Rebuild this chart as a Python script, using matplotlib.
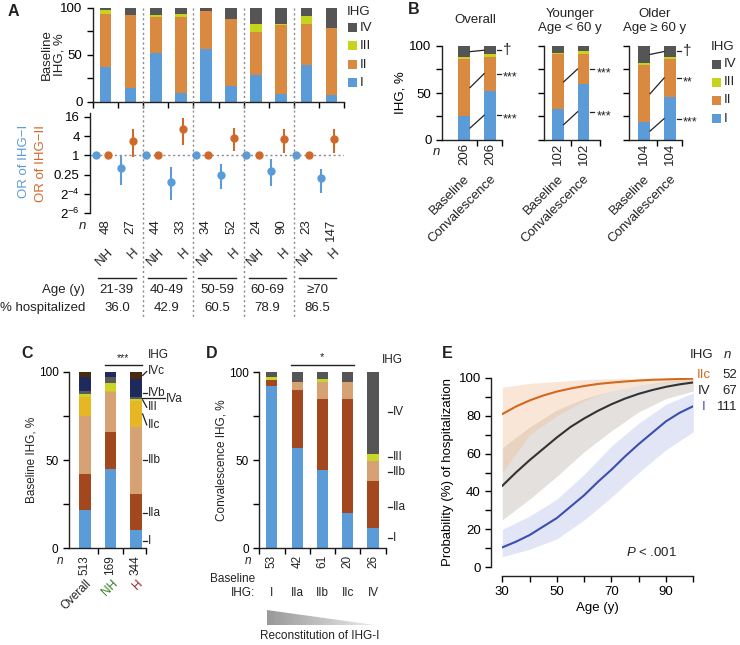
import numpy as np
import matplotlib.pyplot as plt
from matplotlib import transforms
from matplotlib.lines import Line2D
from matplotlib.patches import Rectangle, Polygon

plt.rcParams['font.family'] = ['Liberation Sans', 'DejaVu Sans']
plt.rcParams['font.size'] = 9.5
plt.rcParams['mathtext.fontset'] = 'custom'
plt.rcParams['mathtext.rm'] = 'Liberation Sans'
plt.rcParams['mathtext.it'] = 'Liberation Sans:italic'
plt.rcParams['axes.linewidth'] = 1.0
plt.rcParams['axes.edgecolor'] = '#222222'
plt.rcParams['text.color'] = '#222222'
for k in ['xtick.major.size', 'ytick.major.size', 'xtick.minor.size', 'ytick.minor.size']:
    plt.rcParams[k] = 4
for k in ['xtick.major.width', 'ytick.major.width', 'xtick.minor.width', 'ytick.minor.width']:
    plt.rcParams[k] = 1.0

# ---------------- data ----------------
ihg4 = ['IV', 'III', 'II', 'I']
col4 = {'I': '#5b9bd8', 'II': '#d98a40', 'III': '#c6d41e', 'IV': '#555555'}

# panel A
age_groups = ['21-39', '40-49', '50-59', '60-69', '≥70']
pct_hosp = ['36.0', '42.9', '60.5', '78.9', '86.5']
a_status = ['NH', 'H'] * 5
a_n = [48, 27, 44, 33, 34, 52, 24, 90, 23, 147]
a_I = [36.5, 14.8, 52.0, 9.0, 55.5, 17.0, 28.6, 8.5, 39.0, 6.8]
a_II = [56.5, 77.2, 38.0, 81.0, 40.5, 70.7, 45.6, 72.8, 43.0, 71.7]
a_III = [4.2, 0.4, 2.2, 3.3, 0.3, 0.3, 8.5, 1.1, 8.9, 0.0]
a_IV = [2.8, 7.6, 7.8, 6.7, 3.7, 12.0, 17.3, 17.6, 9.1, 21.5]
# odds ratios (H vs NH) per age group
or_I = [0.39, 0.145, 0.24, 0.33, 0.20]
or_I_lo = [0.12, 0.04, 0.088, 0.107, 0.067]
or_I_hi = [1.05, 0.44, 0.53, 0.79, 0.38]
or_II = [2.77, 6.6, 3.5, 3.25, 3.25]
or_II_lo = [0.9, 2.17, 1.37, 1.21, 1.21]
or_II_hi = [6.6, 15.1, 7.1, 6.6, 6.6]

# panel B
b_titles = ['Overall', 'Younger\nAge < 60 y', 'Older\nAge ≥ 60 y']
b_n = [206, 102, 104]
b_base = [[25.5, 60.5, 2.0, 12.0], [32.6, 58.4, 2.0, 7.0], [19.0, 60.4, 2.6, 18.0]]
b_conv = [[52.5, 36.1, 2.4, 9.0], [60.0, 31.0, 3.7, 5.3], [45.4, 41.1, 1.8, 11.7]]
b_sig = [['***', '***', None, '†'], ['***', '***', None, None], ['***', '**', None, '†']]

# panels C and D
c_cats = ['I', 'IIa', 'IIb', 'IIc', 'III', 'IVa', 'IVb', 'IVc']
c_cols = ['#5b9bd8', '#a3481e', '#d6a273', '#e6b624', '#c8d62a', '#5a5a5a', '#1f2a5c', '#4a2b0e']
c_groups = ['Overall', 'NH', 'H']
c_group_cols = ['#222222', '#2e7d1f', '#8b1a1a']
c_n = [513, 169, 344]
c_vals = [[21.8, 20.4, 33.0, 10.9, 1.5, 1.7, 8.1, 2.6],
          [45.0, 20.7, 22.7, 0.9, 4.4, 3.4, 2.9, 0.0],
          [10.4, 20.5, 37.8, 15.0, 1.0, 1.1, 10.2, 4.0]]
c_lab_y = [4.3, 19.9, 50.2, 70.0, 80.0, 84.8, 88.0, 100.3]

d_cats = ['I', 'IIa', 'IIb', 'III', 'IV']
d_cols = ['#5b9bd8', '#a3481e', '#d6a273', '#c8d62a', '#555555']
d_groups = ['I', 'IIa', 'IIb', 'IIc', 'IV']
d_n = [53, 42, 61, 20, 26]
d_vals = [[92.2, 3.4, 0.3, 1.6, 2.5],
          [57.2, 32.8, 4.7, 0.0, 5.3],
          [44.5, 40.3, 9.9, 1.5, 3.8],
          [20.2, 64.5, 10.0, 0.0, 5.3],
          [11.7, 26.7, 11.2, 4.0, 46.4]]
d_lab_y = [5.7, 23.6, 43.2, 51.7, 77.6]

# panel E
age = [30, 35, 40, 45, 50, 55, 60, 65, 70, 75, 80, 85, 90, 95, 100]
p_IIc = [80.8, 84.8, 88.0, 90.6, 92.7, 94.3, 95.6, 96.7, 97.4, 98.0, 98.5, 98.9, 99.1, 99.3, 99.5]
p_IV = [43.0, 50.0, 56.5, 62.5, 68.5, 74.0, 78.5, 82.5, 86.0, 89.0, 91.5, 93.5, 95.2, 96.5, 97.5]
p_I = [10.5, 13.5, 17.0, 21.5, 26.0, 32.0, 38.0, 45.0, 51.5, 58.5, 65.0, 71.0, 77.0, 81.5, 85.0]
age_ci = [30, 40, 50, 60, 70, 80, 90, 100]
IIc_lo = [50, 70, 80, 88, 93, 96, 97.5, 98.5]
IIc_hi = [95, 97, 98, 99, 99.5, 99.7, 99.8, 100]
IV_lo = [25, 36, 48, 61, 72, 82, 89, 93]
IV_hi = [63, 74, 83, 89, 93, 96, 98, 99.5]
I_lo = [5.6, 9.5, 15, 25, 37, 50, 62, 71.5]
I_hi = [20, 27, 36, 49, 64, 76, 86, 92]
e_cats = ['IIc', 'IV', 'I']
e_n = [52, 67, 111]
e_cols = ['#d2691e', '#333333', '#3a4fb0']

# ---------------- figure ----------------
W, H = 740, 645
fig = plt.figure(figsize=(W / 100, H / 100), dpi=100)
PX = transforms.Affine2D().scale(1 / W, -1 / H).translate(0, 1) + fig.transFigure


def px_axes(l, t, r, b):
    return fig.add_axes([l / W, 1 - b / H, (r - l) / W, (b - t) / H])


def xdat(ax):
    return transforms.blended_transform_factory(ax.transData, PX)


def ptext(x, y, s, **kw):
    fig.text(x, y, s, transform=PX, **kw)


def clean(ax):
    ax.spines['top'].set_visible(False)
    ax.spines['right'].set_visible(False)


def stack(ax, x, vals, cols, width):
    bottom = 0.0
    for v, c in zip(vals, cols):
        ax.bar(x, v, bottom=bottom, width=width, color=c, linewidth=0)
        bottom += v


for lab, (x, y) in zip('ABCDE', [(13, 11), (414, 10), (27, 354), (212, 354), (447, 354)]):
    ptext(x, y, lab, fontsize=11.5, fontweight='bold', ha='center', va='center')

# ---------- panel A ----------
axA = px_axes(93, 7.5, 344, 101.5)
for i in range(10):
    stack(axA, i, [a_I[i], a_II[i], a_III[i], a_IV[i]],
          [col4['I'], col4['II'], col4['III'], col4['IV']], 0.46)
axA.set_xlim(-0.5, 9.5)
axA.set_ylim(0, 100)
axA.set_yticks([0, 50, 100])
axA.set_yticks([25, 75], minor=True)
axA.set_xticks(np.arange(-0.5, 10, 1))
axA.set_xticklabels([])
clean(axA)
ptext(53, 55, 'Baseline\nIHG, %', rotation=90, ha='center', va='center', multialignment='center',
      linespacing=1.1)

ptext(347, 12, 'IHG', ha='left', va='center')
for k, lab in enumerate(ihg4):
    y = 28 + k * 18.3
    fig.add_artist(Rectangle((348, y + 4), 9, -9, transform=PX, color=col4[lab], lw=0))
    ptext(360, y, lab, ha='left', va='center')

blue, orange = '#5b9bd8', '#d0682a'
axO = px_axes(90, 113, 344, 213)
axO.set_yscale('log', base=2)
axO.set_ylim(2 ** -6, 2 ** 4.4)
axO.set_xlim(-0.62, 9.5)
axO.axhline(1, ls=(0, (1.5, 2)), color='#888888', lw=1, zorder=0)
for g in range(5):
    axO.plot(2 * g - 0.4, 1, 'o', color=blue, ms=5)
    axO.plot(2 * g + 0.1, 1, 'o', color=orange, ms=5)
    axO.errorbar(2 * g + 0.6, or_I[g], yerr=[[or_I[g] - or_I_lo[g]], [or_I_hi[g] - or_I[g]]],
                 fmt='o', color=blue, ms=5, elinewidth=1.5, capsize=0)
    axO.errorbar(2 * g + 1.1, or_II[g], yerr=[[or_II[g] - or_II_lo[g]], [or_II_hi[g] - or_II[g]]],
                 fmt='o', color=orange, ms=5, elinewidth=1.5, capsize=0)
axO.set_yticks([16, 4, 1, 0.25, 2 ** -4, 2 ** -6])
axO.set_yticklabels(['16', '4', '1', '0.25', r'$\mathregular{2^{-4}}$', r'$\mathregular{2^{-6}}$'])
axO.minorticks_off()
axO.set_xticks([])
for s in ['top', 'right', 'bottom']:
    axO.spines[s].set_visible(False)
ptext(24, 125, 'OR of IHG−I', color=blue, rotation=90, ha='center', va='top')
ptext(41.5, 125, 'OR of IHG−II', color=orange, rotation=90, ha='center', va='top')

tA = xdat(axA)
for xd in [1.5, 3.5, 5.5, 7.5]:
    fig.add_artist(Line2D([xd, xd], [8, 318], transform=tA, ls=(0, (1.5, 2)), color='#8a8a8a', lw=1))
ptext(82, 226, 'n', style='italic', ha='center', va='center')
for i in range(10):
    fig.text(i, 219, str(a_n[i]), transform=tA, rotation=90, ha='center', va='top')
    fig.text(i + 0.25, 250, a_status[i], transform=tA, rotation=45, ha='right', va='center',
             rotation_mode='anchor')
for g in range(5):
    fig.add_artist(Line2D([2 * g - 0.3, 2 * g + 1.2], [278, 278], transform=tA, color='#222222', lw=1))
    fig.text(2 * g + 0.45, 290, age_groups[g], transform=tA, ha='center', va='center')
    fig.text(2 * g + 0.45, 308, pct_hosp[g], transform=tA, ha='center', va='center')
ptext(85, 290, 'Age (y)', ha='right', va='center')
ptext(85, 308, '% hospitalized', ha='right', va='center')

# ---------- panel B ----------
b_boxes = [(442, 502, -0.85, 1.46), (544, 600, -0.53, 1.64), (629, 682, -0.58, 1.46)]
b_title_pos = [(475, 20), (570, 21), (655, 21)]
cols_b = [col4['I'], col4['II'], col4['III'], col4['IV']]
for k, (l, r, x0, x1) in enumerate(b_boxes):
    ax = px_axes(l, 46, r, 140)
    stack(ax, 0, b_base[k], cols_b, 0.46)
    stack(ax, 1, b_conv[k], cols_b, 0.46)
    cb = np.cumsum([0] + b_base[k])
    cc = np.cumsum([0] + b_conv[k])
    for s, sig in enumerate(b_sig[k]):
        if sig is None:
            continue
        mb = (cb[s] + cb[s + 1]) / 2
        mc = (cc[s] + cc[s + 1]) / 2
        ax.plot([0.23, 0.77], [mb, mc], color='#222222', lw=0.9)
        ax.plot([1.27, 1.42], [mc, mc], color='#222222', lw=0.9, clip_on=False)
        dy = -3 if '*' in sig else 0
        ax.text(1.5, mc, sig, ha='left', va='center', fontsize=9 if '*' in sig else 11,
                transform=transforms.offset_copy(ax.transData, fig=fig, x=0, y=dy, units='points'))
    ax.set_xlim(x0, x1)
    ax.set_ylim(0, 100)
    ax.set_xticks([0.5, x1])
    ax.set_xticklabels([])
    ax.set_yticks([0, 25, 50, 75, 100])
    if k == 0:
        ax.set_yticks([0, 50, 100])
        ax.set_yticks([25, 75], minor=True)
        ax.set_ylabel('IHG, %', labelpad=2)
    else:
        ax.set_yticklabels([])
    clean(ax)
    tB = xdat(ax)
    for j, lab in enumerate(['Baseline', 'Convalescence']):
        fig.text(j, 143, str(b_n[k]), transform=tB, rotation=90, ha='center', va='top')
        fig.text(j + 0.15, 177, lab, transform=tB, rotation=45, ha='right', va='center',
                 rotation_mode='anchor')
    ptext(b_title_pos[k][0], b_title_pos[k][1], b_titles[k], ha='center', va='center',
          multialignment='center', linespacing=1.25)
ptext(436.5, 152, 'n', style='italic', ha='center', va='center')
ptext(711, 47, 'IHG', ha='left', va='center')
for k, lab in enumerate(ihg4):
    y = 64 + k * 18.2
    fig.add_artist(Rectangle((712, y + 4.5), 9, -9, transform=PX, color=col4[lab], lw=0))
    ptext(724, y, lab, ha='left', va='center')

# ---------- panel C ----------
fs_cd = 8.5
axC = px_axes(69, 372, 145.7, 548.3)
for i in range(3):
    stack(axC, i, c_vals[i], c_cols, 0.45)
axC.set_xlim(-0.62, 2.38)
axC.set_ylim(0, 100)
axC.set_yticks([0, 50, 100])
axC.set_yticks([25, 75], minor=True)
axC.set_xticks([0.5, 1.5, 2.38])
axC.set_xticklabels([])
axC.tick_params(labelsize=fs_cd)
clean(axC)
ptext(32, 460, 'Baseline IHG, %', rotation=90, ha='center', va='center', fontsize=fs_cd)
tC = xdat(axC)
ptext(60, 561, 'n', style='italic', ha='center', va='center', fontsize=fs_cd)
for i in range(3):
    fig.text(i, 555, str(c_n[i]), transform=tC, rotation=90, ha='center', va='top', fontsize=fs_cd)
    fig.text(i + 0.2, 582, c_groups[i], transform=tC, rotation=45, ha='right', va='center',
             rotation_mode='anchor', color=c_group_cols[i], fontsize=fs_cd)
fig.add_artist(Line2D([0.78, 2.25], [365, 365], transform=tC, color='#222222', lw=1))
fig.text(1.5, 358, '***', transform=tC, ha='center', va='center', fontsize=7.5)
ptext(148, 355, 'IHG', ha='left', va='center', fontsize=fs_cd)
cH = np.cumsum([0] + c_vals[2])
for s, lab in enumerate(c_cats):
    mid = (cH[s] + cH[s + 1]) / 2
    ty = c_lab_y[s]
    if lab == 'IVa':
        axC.plot([2.23, 3.15], [mid, mid], color='#222222', lw=0.9, clip_on=False)
        axC.text(3.18, ty, lab, ha='left', va='center', fontsize=fs_cd)
    else:
        axC.plot([2.26, 2.42], [mid if lab in ('IVc', 'III', 'IIc') else ty, ty],
                 color='#222222', lw=0.9, clip_on=False)
        axC.text(2.46, ty, lab, ha='left', va='center', fontsize=fs_cd)

# ---------- panel D ----------
axD = px_axes(259.3, 372.3, 385.6, 548.3)
for i in range(5):
    stack(axD, i, d_vals[i], d_cols, 0.44)
axD.set_xlim(-0.5, 4.5)
axD.set_ylim(0, 100)
axD.set_yticks([0, 50, 100])
axD.set_yticks([25, 75], minor=True)
axD.set_xticks(np.arange(-0.5, 5, 1))
axD.set_xticklabels([])
axD.tick_params(labelsize=fs_cd)
clean(axD)
ptext(222, 460, 'Convalescence IHG, %', rotation=90, ha='center', va='center', fontsize=fs_cd)
tD = xdat(axD)
ptext(248, 561, 'n', style='italic', ha='center', va='center', fontsize=fs_cd)
for i in range(5):
    fig.text(i, 555, str(d_n[i]), transform=tD, rotation=90, ha='center', va='top', fontsize=fs_cd)
    fig.text(i, 593, d_groups[i], transform=tD, ha='center', va='center', fontsize=fs_cd)
ptext(255, 586, 'Baseline\nIHG:', ha='right', va='center', multialignment='right', fontsize=fs_cd,
      linespacing=1.2)
fig.add_artist(Line2D([0.76, 3.25], [364.5, 364.5], transform=tD, color='#222222', lw=1))
fig.text(2.0, 357, '*', transform=tD, ha='center', va='center', fontsize=8)
ptext(382, 360, 'IHG', ha='left', va='center', fontsize=fs_cd)
for s, lab in enumerate(d_cats):
    axD.plot([4.58, 4.74], [d_lab_y[s], d_lab_y[s]], color='#222222', lw=0.9, clip_on=False)
    axD.text(4.8, d_lab_y[s], lab, ha='left', va='center', fontsize=fs_cd)
axT = px_axes(266.7, 610, 375, 625)
axT.axis('off')
im = axT.imshow(np.linspace(0.6, 0.92, 100)[None, :], cmap='gray', vmin=0, vmax=1,
                aspect='auto', extent=[0, 1, 0, 1])
axT.set_xlim(0, 1)
axT.set_ylim(0, 1)
im.set_clip_path(Polygon([(0, 0), (0, 1), (1, 0)], transform=axT.transData))
ptext(320, 636, 'Reconstitution of IHG-I', ha='center', va='center', fontsize=fs_cd)

# ---------- panel E ----------
axE = px_axes(502.3, 377.7, 693.3, 567.3)
axE.fill_between(age_ci, I_lo, I_hi, color='#8a9ad8', alpha=0.25, lw=0)
axE.fill_between(age_ci, IV_lo, IV_hi, color='#a8a09a', alpha=0.32, lw=0)
axE.fill_between(age_ci, IIc_lo, IIc_hi, color='#f2b98a', alpha=0.35, lw=0)
axE.plot(age, p_IIc, color=e_cols[0], lw=1.5)
axE.plot(age, p_IV, color=e_cols[1], lw=1.5)
axE.plot(age, p_I, color=e_cols[2], lw=1.5)
axE.set_xlim(30, 100)
axE.set_ylim(0, 100)
axE.set_xticks([30, 50, 70, 90])
axE.set_xticks([40, 60, 80, 100], minor=True)
axE.set_yticks([0, 20, 40, 60, 80, 100])
axE.set_yticks([10, 30, 50, 70, 90], minor=True)
axE.spines['left'].set_position(('outward', 8))
axE.spines['bottom'].set_position(('outward', 6))
clean(axE)
axE.set_ylabel('Probability (%) of hospitalization', labelpad=3)
axE.set_xlabel('Age (y)', labelpad=3)
axE.text(0.65, 0.08, r'$\mathit{P}$ < .001', transform=axE.transAxes, ha='left', va='center')
ptext(702, 355, 'IHG', ha='center', va='center')
ptext(727, 355, 'n', style='italic', ha='center', va='center')
for k in range(3):
    y = 375 + k * 16
    ptext(704, y, e_cats[k], color=e_cols[k] if k != 1 else '#222222', ha='center', va='center')
    ptext(737, y, str(e_n[k]), ha='right', va='center')

fig.savefig('out.png', dpi=100)
